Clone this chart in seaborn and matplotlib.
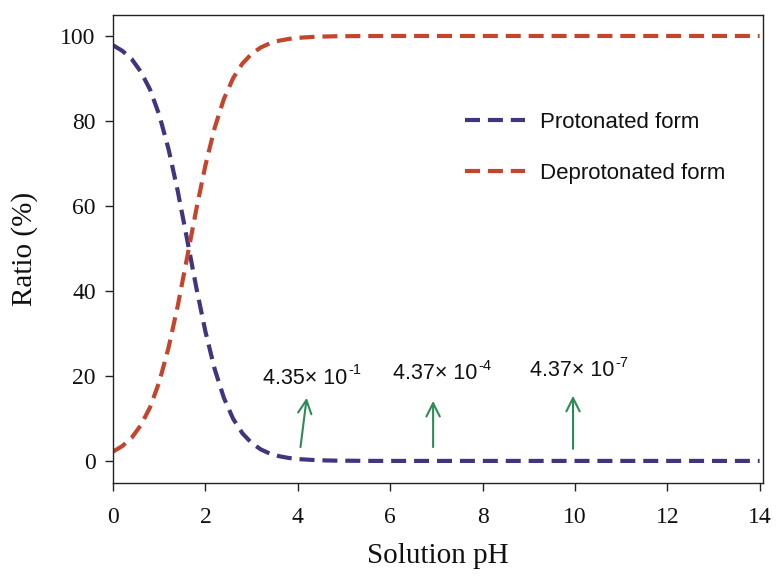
import matplotlib
matplotlib.use("Agg")
import matplotlib.pyplot as plt
import seaborn as sns
import pandas as pd

# Data
ph = [0.0, 0.2, 0.4, 0.6, 0.8, 1.0, 1.2, 1.4, 1.6, 1.8, 2.0, 2.2, 2.4, 2.6, 2.8,
      3.0, 3.2, 3.4, 3.6, 3.8, 4.0, 4.4, 4.8, 5.5, 6.0, 7.0, 8.0, 9.0, 10.0,
      11.0, 12.0, 13.0, 14.0]
protonated = [97.8, 96.5, 94.6, 91.6, 87.4, 81.4, 73.4, 63.5, 52.3, 40.9, 30.4,
              21.6, 14.8, 9.9, 6.5, 4.2, 2.7, 1.7, 1.1, 0.7, 0.44, 0.17, 0.07,
              0.01, 0.0, 0.0, 0.0, 0.0, 0.0, 0.0, 0.0, 0.0, 0.0]
deprotonated = [2.2, 3.5, 5.4, 8.4, 12.6, 18.6, 26.6, 36.5, 47.7, 59.1, 69.6,
                78.4, 85.2, 90.1, 93.5, 95.8, 97.3, 98.3, 98.9, 99.3, 99.56,
                99.83, 99.93, 99.99, 100.0, 100.0, 100.0, 100.0, 100.0, 100.0,
                100.0, 100.0, 100.0]
series_names = ["Protonated form", "Deprotonated form"]
ann_base = ["4.35\u00d7 10", "4.37\u00d7 10", "4.37\u00d7 10"]
ann_exp = ["-1", "-4", "-7"]
ann_text_xy = [(3.25, 19.5), (6.06, 20.5), (9.03, 21.2)]
ann_arrow_tail = [(4.05, 2.6), (6.93, 2.6), (9.96, 2.2)]
ann_arrow_tip = [(4.2, 15.5), (6.93, 14.8), (9.96, 16.0)]
x_ticks = [0, 2, 4, 6, 8, 10, 12, 14]
y_ticks = [0, 20, 40, 60, 80, 100]

sns.set_style("ticks")

df = pd.DataFrame({"pH": ph + ph,
                   "Ratio": protonated + deprotonated,
                   "Form": [series_names[0]] * len(ph) + [series_names[1]] * len(ph)})

fig = plt.figure(figsize=(7.8, 5.83), dpi=100)
ax = fig.add_axes([0.145, 0.1715, 0.833, 0.8025])

colors = {"Protonated form": "#40357f", "Deprotonated form": "#c4452c"}
for name in series_names:
    sub = df[df["Form"] == name]
    sns.lineplot(data=sub, x="pH", y="Ratio", ax=ax, color=colors[name],
                 lw=3.0, linestyle=(0, (3.6, 1.9)), label=name)

ax.set_xlim(0, 14.07)
ax.set_ylim(-5.2, 104.9)
ax.set_xticks(x_ticks)
ax.set_yticks(y_ticks)
ax.tick_params(direction="out", length=6, width=1, color="#222222",
               labelsize=17, labelfontfamily="Liberation Serif", labelcolor="#111111")
ax.tick_params(axis="y", pad=6.5)
ax.tick_params(axis="x", pad=11)
ax.tick_params(top=False, right=False)
for s in ax.spines.values():
    s.set_linewidth(1.0)
    s.set_color("#222222")
ax.set_xlabel("Solution pH", family="Liberation Serif", fontsize=21, labelpad=11,
              color="#111111")
ax.set_ylabel("Ratio (%)", family="Liberation Serif", fontsize=21, labelpad=16,
              color="#111111")

leg = ax.legend(loc="center left", bbox_to_anchor=(0.5415, 0.716), frameon=False,
                borderpad=0, borderaxespad=0, handlelength=2.7, handletextpad=0.7,
                labelspacing=1.35, prop={"family": "Liberation Sans", "size": 16})
for t in leg.get_texts():
    t.set_color("#111111")

for base, ex, txy, tail, tip in zip(ann_base, ann_exp, ann_text_xy,
                                     ann_arrow_tail, ann_arrow_tip):
    main = ax.text(txy[0], txy[1], base, fontsize=15.5, family="Liberation Sans",
                   va="center", ha="left", color="#111111")
    ax.annotate(ex, xy=(1.0, 0.55), xycoords=main, xytext=(1, 0),
                textcoords="offset points", fontsize=10.5,
                family="Liberation Sans", va="bottom", ha="left", color="#111111")
    ax.annotate("", xy=tip, xytext=tail,
                arrowprops=dict(arrowstyle="->", color="#2e8b57", lw=1.5,
                                mutation_scale=24))

fig.savefig("out.png", dpi=100)
